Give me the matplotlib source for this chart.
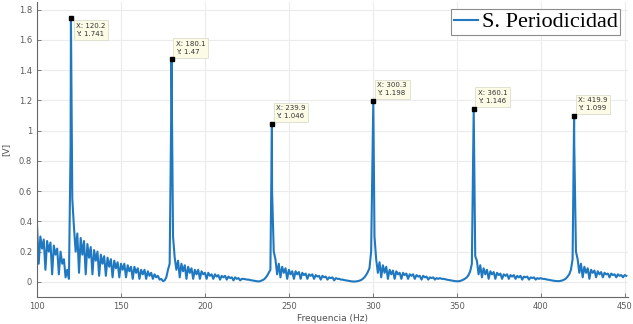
import numpy as np
import matplotlib.pyplot as plt

# ======================================
# 1. Spectrum values (1 Hz bins)
# ======================================

f_start = 100
f_stop = 451

amp_100_159 = [0.37, 0.12, 0.30, 0.22, 0.28, 0.08, 0.27, 0.20, 0.26, 0.05,
               0.24, 0.18, 0.22, 0.05, 0.20, 0.12, 0.15, 0.03, 0.08, 0.02,
               0.90, 0.55, 0.36, 0.20, 0.32, 0.06, 0.29, 0.18, 0.27, 0.05,
               0.25, 0.16, 0.23, 0.05, 0.21, 0.14, 0.20, 0.04, 0.18, 0.12,
               0.17, 0.04, 0.16, 0.10, 0.15, 0.03, 0.14, 0.09, 0.13, 0.03,
               0.12, 0.08, 0.12, 0.03, 0.11, 0.07, 0.10, 0.02, 0.10, 0.06]
amp_160_219 = [0.09, 0.02, 0.08, 0.05, 0.08, 0.02, 0.07, 0.04, 0.06, 0.02,
               0.05, 0.03, 0.04, 0.015, 0.02, 0.005, 0.01, 0.03, 0.08, 0.12,
               1.20, 0.30, 0.16, 0.08, 0.14, 0.03, 0.12, 0.07, 0.11, 0.02,
               0.10, 0.06, 0.09, 0.02, 0.08, 0.05, 0.08, 0.02, 0.07, 0.05,
               0.06, 0.02, 0.06, 0.04, 0.05, 0.02, 0.05, 0.035, 0.045, 0.015,
               0.04, 0.03, 0.04, 0.015, 0.035, 0.025, 0.03, 0.01, 0.03, 0.02]
amp_220_279 = [0.025, 0.01, 0.02, 0.02, 0.018, 0.015, 0.015, 0.012, 0.01, 0.008,
               0.006, 0.004, 0.003, 0.005, 0.01, 0.015, 0.025, 0.04, 0.06, 0.08,
               0.60, 0.20, 0.15, 0.05, 0.12, 0.03, 0.10, 0.06, 0.09, 0.02,
               0.08, 0.05, 0.07, 0.02, 0.07, 0.05, 0.065, 0.02, 0.06, 0.045,
               0.055, 0.02, 0.05, 0.04, 0.05, 0.02, 0.045, 0.035, 0.04, 0.015,
               0.04, 0.03, 0.035, 0.015, 0.03, 0.025, 0.03, 0.01, 0.025, 0.02]
amp_280_339 = [0.02, 0.015, 0.015, 0.012, 0.01, 0.008, 0.006, 0.004, 0.003, 0.002,
               0.003, 0.005, 0.008, 0.012, 0.02, 0.03, 0.045, 0.065, 0.09, 0.20,
               1.00, 0.30, 0.15, 0.06, 0.13, 0.03, 0.11, 0.06, 0.10, 0.02,
               0.08, 0.05, 0.075, 0.02, 0.07, 0.05, 0.06, 0.02, 0.06, 0.045,
               0.055, 0.02, 0.05, 0.04, 0.05, 0.02, 0.045, 0.035, 0.04, 0.015,
               0.04, 0.03, 0.035, 0.015, 0.03, 0.025, 0.03, 0.015, 0.025, 0.02]
amp_340_399 = [0.025, 0.02, 0.02, 0.018, 0.015, 0.013, 0.011, 0.009, 0.007, 0.005,
               0.004, 0.004, 0.006, 0.01, 0.015, 0.022, 0.03, 0.045, 0.07, 0.12,
               1.00, 0.17, 0.14, 0.05, 0.11, 0.03, 0.09, 0.05, 0.08, 0.02,
               0.07, 0.05, 0.065, 0.02, 0.06, 0.045, 0.055, 0.02, 0.05, 0.04,
               0.05, 0.02, 0.045, 0.035, 0.045, 0.02, 0.04, 0.03, 0.04, 0.015,
               0.035, 0.03, 0.035, 0.015, 0.03, 0.025, 0.03, 0.015, 0.025, 0.02]
amp_400_451 = [0.025, 0.02, 0.02, 0.018, 0.015, 0.013, 0.011, 0.009, 0.007, 0.006,
               0.005, 0.005, 0.007, 0.01, 0.015, 0.022, 0.035, 0.05, 0.08, 0.15,
               0.90, 0.20, 0.15, 0.06, 0.12, 0.03, 0.10, 0.06, 0.09, 0.02,
               0.08, 0.06, 0.075, 0.03, 0.07, 0.05, 0.065, 0.03, 0.06, 0.05,
               0.055, 0.03, 0.055, 0.045, 0.05, 0.03, 0.05, 0.04, 0.045, 0.03,
               0.045, 0.04]

# Harmonic peaks (data tips)
peak_freq = [120.2, 180.1, 239.9, 300.3, 360.1, 419.9]
peak_amp = [1.741, 1.47, 1.046, 1.198, 1.146, 1.099]

xticks = [100, 150, 200, 250, 300, 350, 400, 450]
yticks = [0, 0.2, 0.4, 0.6, 0.8, 1, 1.2, 1.4, 1.6, 1.8]
ytick_labels = ['0', '0.2', '0.4', '0.6', '0.8', '1', '1.2', '1.4', '1.6', '1.8']

# ======================================
# 2. Build series
# ======================================

amp_bins = np.array(amp_100_159 + amp_160_219 + amp_220_279
                    + amp_280_339 + amp_340_399 + amp_400_451)
freq_bins = np.arange(f_start, f_stop + 1, 1.0)

freq = np.concatenate([freq_bins, peak_freq])
amp = np.concatenate([amp_bins, peak_amp])
order = np.argsort(freq)
freq = freq[order]
amp = amp[order]

# ======================================
# 3. Plot
# ======================================

fig = plt.figure(figsize=(6.33, 3.24), dpi=100)
ax = fig.add_axes([0.0585, 0.0833, 0.9336, 0.9105])

line_color = '#1f78c0'
ax.plot(freq, amp, color=line_color, linewidth=1.5, label='S. Periodicidad')

ax.set_xlim(100, 452)
ax.set_ylim(-0.1, 1.85)
ax.set_xticks(xticks)
ax.set_yticks(yticks)
ax.set_yticklabels(ytick_labels)
ax.grid(True, color='#ececec', linewidth=0.8)
ax.set_axisbelow(True)

for side in ['top', 'right']:
    ax.spines[side].set_visible(False)
for side in ['left', 'bottom']:
    ax.spines[side].set_color('#666666')
    ax.spines[side].set_linewidth(0.8)

ax.tick_params(direction='in', length=3, width=0.6, colors='#666666',
               labelsize=6, labelcolor='#5a5a5a')
ax.set_xlabel('Frequencia (Hz)', fontsize=6.5, color='#505050', labelpad=2)
ax.set_ylabel('[V]', fontsize=6.5, color='#505050', labelpad=6)

# Data tips
ax.plot(peak_freq, peak_amp, 's', color='black', markersize=3.5, zorder=5)
for i, (fx, fy) in enumerate(zip(peak_freq, peak_amp)):
    if i == 0:
        offset, va = (4, -3), 'top'
    else:
        offset, va = (3, 3), 'bottom'
    ax.annotate(f'X: {fx}\nY: {fy}', xy=(fx, fy), xytext=offset,
                textcoords='offset points', fontsize=5, va=va, ha='left',
                color='#333333', linespacing=1.5,
                bbox=dict(boxstyle='square,pad=0.35', facecolor='#fbfbe6',
                          edgecolor='#d8d8c8', linewidth=0.5))

leg = ax.legend(loc='upper right', bbox_to_anchor=(0.998, 0.998),
                prop={'family': 'Liberation Serif', 'size': 16},
                handlelength=1.1, handletextpad=0.15, borderpad=0.12,
                fancybox=False, framealpha=1, borderaxespad=0.3)
leg.get_frame().set_edgecolor('#8c8c8c')
leg.get_frame().set_linewidth(0.8)

fig.savefig('out.png', dpi=100)
